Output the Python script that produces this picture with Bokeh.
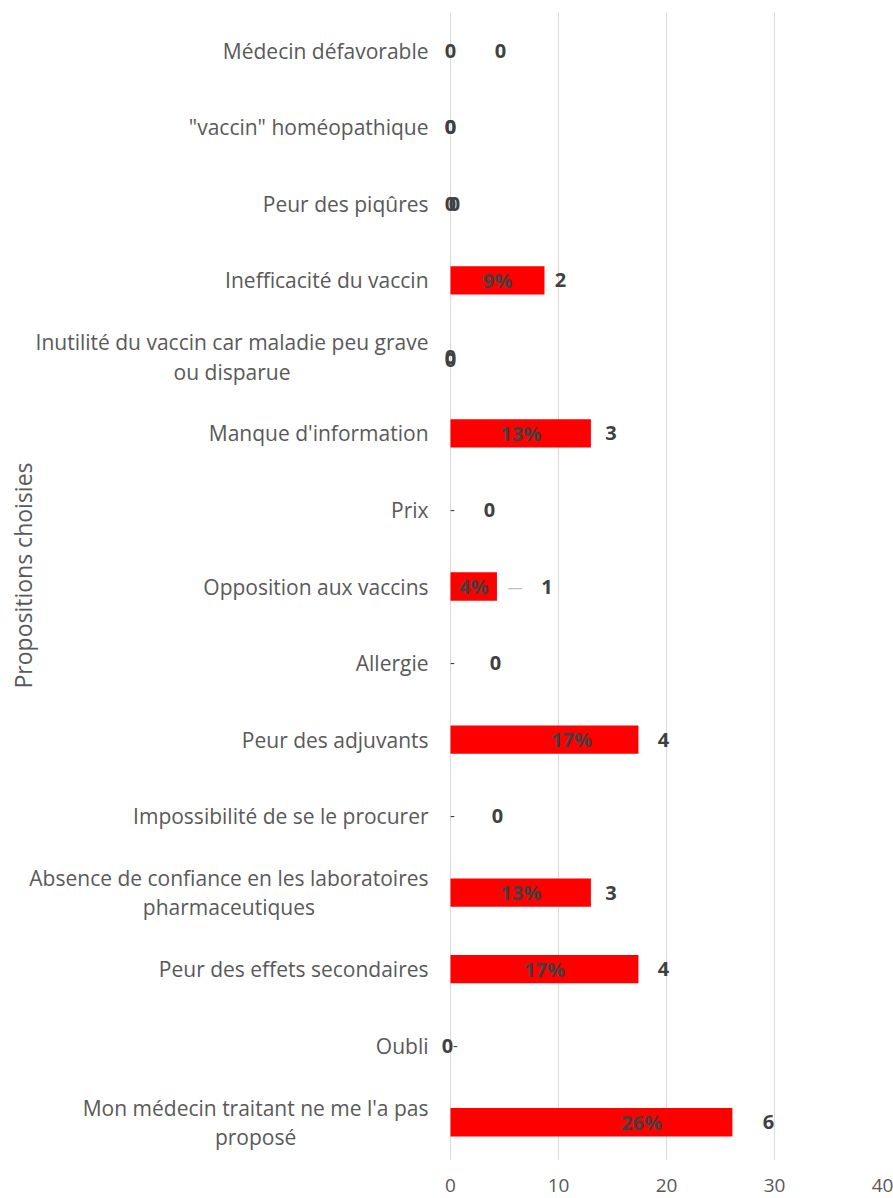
import math
from bokeh.plotting import figure
from bokeh.models import Range1d, FactorRange, ColumnDataSource, FixedTicker
from bokeh.core.properties import value
from bokeh.embed import file_html
from bokeh.resources import INLINE

# Reasons chosen, listed bottom to top (long names broken on two lines)
categories = [
    "Mon médecin traitant ne me l'a pas\nproposé",
    "Oubli",
    "Peur des effets secondaires",
    "Absence de confiance en les laboratoires\npharmaceutiques",
    "Impossibilité de se le procurer",
    "Peur des adjuvants",
    "Allergie",
    "Opposition aux vaccins",
    "Prix",
    "Manque d'information",
    "Inutilité du vaccin car maladie peu grave\nou disparue",
    "Inefficacité du vaccin",
    "Peur des piqûres",
    "\"vaccin\" homéopathique",
    "Médecin défavorable",
]
percents = [26.1, 0.0, 17.4, 13.0, 0.0, 17.4, 0.0, 4.3, 0.0, 13.0, 0.0, 8.7, 0.0, 0.0, 0.0]
counts = [6, 0, 4, 3, 0, 4, 0, 1, 0, 3, 0, 2, 0, 0, 0]
x_ticks = [0, 10, 20, 30, 40]
axis_title = "Propositions choisies"

# label placement (pixels) and which zero-rows keep their inner label
count_dx = [36, -3, 25, 20, 47, 25, 45, 50, 39, 20, 0, 16, 4, 0, 50]
count_dy = [0, 0, 0, 0, 0, 0, 0, 0, 0, 0, 3, 0, 0, 0, 0]
pct_dx = [50, 0, 0, 0, 0, 27, 0, 0, 0, 0, 0, 0, 0, 0, 0]
pct_shown = [1, 0, 1, 1, 0, 1, 0, 1, 0, 1, 1, 1, 1, 1, 1]

FONT = "Open Sans"
GREY = "#595959"
DARK = "#404040"

# the frame spans the whole width; the negative part of the x range holds
# the category names, while grid and ticks stay on 0..40
p = figure(
    width=893, height=1198,
    y_range=FactorRange(*categories),
    x_range=Range1d(-41.67, 40),
    output_backend="svg", toolbar_location=None,
    min_border_left=0, min_border_right=11,
    min_border_top=12, min_border_bottom=38,
)
p.outline_line_color = None
p.background_fill_color = "white"

src = ColumnDataSource(dict(
    cat=categories,
    pct=percents,
    cnt=[str(c) for c in counts],
    cdx=count_dx,
    cdy=count_dy,
    mid=[v / 2 for v in percents],
    zero=[0] * len(categories),
))
inner = ColumnDataSource(dict(
    cat=[c for c, s in zip(categories, pct_shown) if s],
    mid=[v / 2 for v, s in zip(percents, pct_shown) if s],
    txt=[(f"{round(v)}%" if v > 0 else "0") for v, s in zip(percents, pct_shown) if s],
    dx=[d for d, s in zip(pct_dx, pct_shown) if s],
))

p.xgrid.grid_line_color = "#d9d9d9"
p.xgrid.ticker = FixedTicker(ticks=x_ticks)
p.ygrid.grid_line_color = None

p.hbar(y="cat", left=0, right="pct", height=0.37, source=src,
       fill_color="#ff0000", line_color=None)

p.text(x="mid", y="cat", text="txt", x_offset="dx", source=inner,
       text_font=value(FONT), text_font_size="20px", text_color=DARK,
       text_align="center", text_baseline="middle", text_font_style="bold")
p.text(x="pct", y="cat", text="cnt", x_offset="cdx", y_offset="cdy", source=src,
       text_font=value(FONT), text_font_size="20px", text_color=DARK,
       text_align="center", text_baseline="middle", text_font_style="bold")

# leader marks between dragged labels and their bars
lead = ColumnDataSource(dict(
    x=[0.0, 0.0, 0.0, 0.0, 4.3],
    y=[categories[1], categories[4], categories[6], categories[8], categories[7]],
    dx=[5, 2, 2, 2, 18],
    t=["-", "-", "-", "-", "—"],
    c=[DARK, DARK, DARK, DARK, "#bfbfbf"],
))
p.text(x="x", y="y", text="t", x_offset="dx", source=lead, text_color="c",
       text_font=value(FONT), text_font_size="15px",
       text_align="center", text_baseline="middle")

# category names: block anchored on its right edge, lines centred
p.text(x="zero", y="cat", text="cat", x_offset=-22, source=src,
       anchor="center_right", text_align="center", text_baseline="middle",
       text_font=value(FONT), text_font_size="21px", text_color=GREY,
       text_line_height=1.05)

# vertical axis title
p.text(x=[0], y=[categories[7]], text=[axis_title], x_offset=-428, y_offset=-11,
       angle=math.pi / 2, anchor="center", text_align="center",
       text_baseline="middle", text_font=value(FONT), text_font_size="23px",
       text_color=GREY)

xa = p.xaxis[0]
xa.ticker = FixedTicker(ticks=x_ticks)
xa.axis_line_color = None
xa.major_tick_line_color = None
xa.minor_tick_line_color = None
xa.major_label_text_font = FONT
xa.major_label_text_font_size = "19px"
xa.major_label_text_color = GREY
xa.major_label_standoff = 12

p.yaxis.visible = False

open("out.html", "w").write(file_html(p, INLINE))
